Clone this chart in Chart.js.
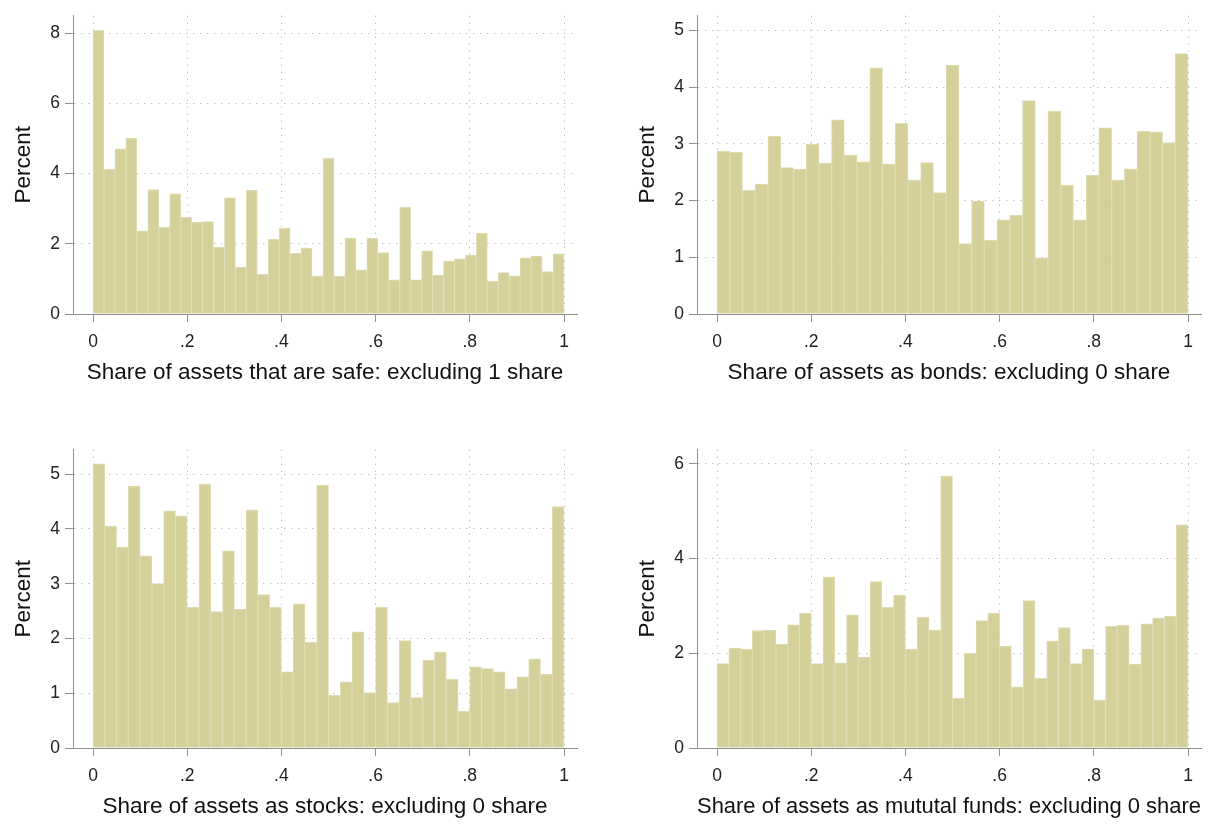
<!DOCTYPE html>
<html>
<head>
<meta charset="utf-8">
<script src="https://cdn.jsdelivr.net/npm/chart.js@4.4.1/dist/chart.umd.min.js"></script>
<style>
  html, body { margin: 0; padding: 0; background: #fff; }
  #wrap { position: relative; width: 1228px; height: 824px; overflow: hidden; }
  canvas { position: absolute; }
</style>
</head>
<body>
<div id="wrap">
  <canvas id="safe" width="604" height="434" style="left:0;top:0"></canvas>
  <canvas id="bonds" width="604" height="434" style="left:624px;top:0"></canvas>
  <canvas id="stocks" width="604" height="390" style="left:0;top:434px"></canvas>
  <canvas id="funds" width="604" height="390" style="left:624px;top:434px"></canvas>
</div>
<script>
// percent of households per bin, bins run evenly from 0 to 1
const safeShare = [8.08, 4.13, 4.70, 5.01, 2.37, 3.54, 2.47, 3.42, 2.75, 2.62,
  2.63, 1.90, 3.31, 1.33, 3.53, 1.13, 2.13, 2.44, 1.73, 1.88,
  1.08, 4.43, 1.07, 2.16, 1.26, 2.16, 1.75, 0.97, 3.04, 0.97,
  1.80, 1.11, 1.51, 1.57, 1.68, 2.30, 0.93, 1.18, 1.09, 1.60,
  1.65, 1.21, 1.71];
const bondsShare = [2.87, 2.85, 2.18, 2.29, 3.13, 2.58, 2.55, 2.99, 2.66, 3.42,
  2.80, 2.68, 4.34, 2.64, 3.36, 2.36, 2.67, 2.14, 4.38, 1.24,
  1.99, 1.30, 1.66, 1.74, 3.76, 0.99, 3.57, 2.27, 1.66, 2.45,
  3.28, 2.36, 2.56, 3.22, 3.21, 3.02, 4.59];
const stocksShare = [5.19, 4.05, 3.67, 4.78, 3.51, 3.00, 4.33, 4.24, 2.57, 4.82,
  2.49, 3.60, 2.53, 4.35, 2.80, 2.57, 1.39, 2.63, 1.93, 4.80,
  0.96, 1.21, 2.12, 1.01, 2.57, 0.83, 1.96, 0.92, 1.60, 1.75,
  1.26, 0.67, 1.48, 1.45, 1.39, 1.08, 1.30, 1.63, 1.35, 4.41];
const fundsShare = [1.78, 2.11, 2.09, 2.48, 2.49, 2.19, 2.60, 2.84, 1.78, 3.61,
  1.80, 2.81, 1.92, 3.51, 2.97, 3.23, 2.09, 2.76, 2.49, 5.74,
  1.05, 2.00, 2.69, 2.85, 2.15, 1.29, 3.11, 1.47, 2.26, 2.54,
  1.78, 2.09, 1.01, 2.57, 2.59, 1.77, 2.62, 2.74, 2.78, 4.71];

const xTicks = [0, 0.2, 0.4, 0.6, 0.8, 1];
const xTickLabels = ['0', '.2', '.4', '.6', '.8', '1'];
const safeTicks = [0, 2, 4, 6, 8];
const bondsTicks = [0, 1, 2, 3, 4, 5];
const stocksTicks = [0, 1, 2, 3, 4, 5];
const fundsTicks = [0, 2, 4, 6];

Chart.defaults.font.family = '"Liberation Sans", Arial, sans-serif';

const barFill = 'rgb(213, 207, 153)';
const barEdge = 'rgb(224, 220, 178)';
const axisGray = '#8f8f8f';
const gridGray = '#c2c2c2';

function histogram(canvasId, values, yMax, yTicks, title, bottomPad) {
    const n = values.length;
    // bin i covers [i/n, (i+1)/n], bar sits on its middle
    const points = values.map((v, i) => ({ x: (i + 0.5) / n, y: v }));

    new Chart(document.getElementById(canvasId), {
        type: 'bar',
        data: {
            datasets: [{
                data: points,
                backgroundColor: barFill,
                borderColor: barEdge,
                borderWidth: 1,
                barPercentage: 1,
                categoryPercentage: 1
            }]
        },
        options: {
            responsive: false,
            animation: false,
            events: [],
            layout: { padding: { left: 0, right: 27, top: 9, bottom: bottomPad } },
            plugins: { legend: { display: false }, tooltip: { enabled: false } },
            scales: {
                x: {
                    type: 'linear',
                    offset: false,
                    min: -0.0425,
                    max: 1.0276,
                    afterBuildTicks: s => { s.ticks = xTicks.map(v => ({ value: v })); },
                    afterFit: s => { s.height = 72; },
                    ticks: {
                        autoSkip: false,
                        maxRotation: 0,
                        padding: 10,
                        color: '#222',
                        font: { size: 17.5 },
                        callback: (v, i) => xTickLabels[i]
                    },
                    grid: { offset: false, color: gridGray, tickColor: axisGray, tickLength: 8 },
                    border: { color: axisGray, width: 1, dash: [1.5, 5.5], z: 1 },
                    title: {
                        display: true,
                        text: title,
                        color: '#111',
                        font: { size: 22.5 },
                        padding: { top: 0, bottom: 0 }
                    }
                },
                y: {
                    min: 0,
                    max: yMax,
                    afterBuildTicks: s => { s.ticks = yTicks.map(v => ({ value: v })); },
                    afterFit: s => { s.width = 73; },
                    ticks: { padding: 5, color: '#222', font: { size: 17.5 } },
                    grid: { color: gridGray, tickColor: axisGray, tickLength: 8 },
                    border: { color: axisGray, width: 1, dash: [1.5, 5.5], z: 1 },
                    title: {
                        display: true,
                        text: 'Percent',
                        color: '#111',
                        font: { size: 22.5 },
                        padding: { top: 10, bottom: 0 }
                    }
                }
            }
        }
    });
}

histogram('safe', safeShare, 8.5, safeTicks, 'Share of assets that are safe: excluding 1 share', 48);
histogram('bonds', bondsShare, 5.26, bondsTicks, 'Share of assets as bonds: excluding 0 share', 48);
histogram('stocks', stocksShare, 5.45, stocksTicks, 'Share of assets as stocks: excluding 0 share', 4);
histogram('funds', fundsShare, 6.3, fundsTicks, 'Share of assets as mututal funds: excluding 0 share', 4);
</script>
</body>
</html>
